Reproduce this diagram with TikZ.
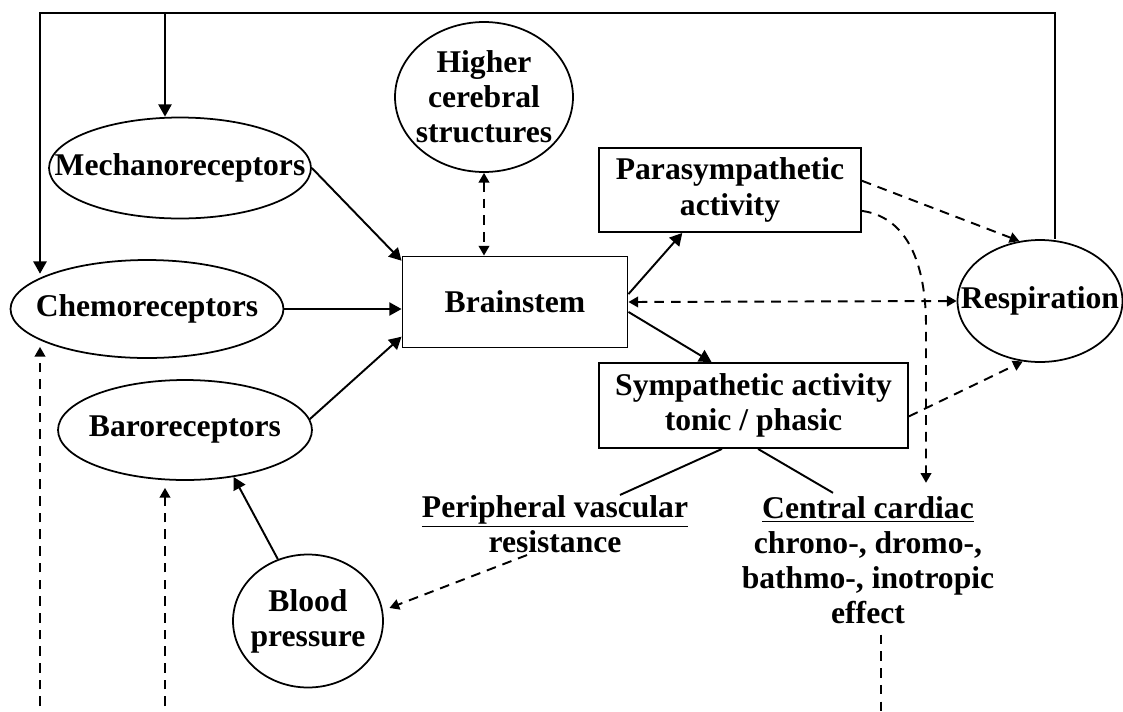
\documentclass[tikz,border=0pt]{standalone}
\usepackage{fontspec}
\setmainfont{Liberation Serif}
\usetikzlibrary{shapes.geometric,arrows.meta,calc}

\begin{document}
\begin{tikzpicture}[x=0.02cm,y=-0.02cm,
  font=\fontsize{18}{20}\selectfont\bfseries,
  oval/.style={draw,ellipse,line width=1pt,inner sep=-3cm,align=center},
  box/.style={draw,rectangle,line width=1.1pt,inner sep=2pt,align=center},
  txt/.style={inner sep=0pt,align=center},
  plainline/.style={line width=1.1pt},
  dline/.style={line width=1.1pt,dash pattern=on 5.5pt off 4pt},
  link/.style={plainline,-{Triangle[length=7pt,width=7.5pt]}},
  dlink/.style={dline,-{Triangle[length=5.5pt,width=6pt]}},
  ddual/.style={dline,{Triangle[length=5.5pt,width=6pt]}-{Triangle[length=5.5pt,width=6pt]}}]
\useasboundingbox (0,0) rectangle (1123,711);

\node[oval,minimum width=5.24cm,minimum height=2.02cm] (mech) at (180,168) {Mechanoreceptors};
\node[oval,minimum width=5.46cm,minimum height=1.96cm] (chemo) at (147,309) {Chemoreceptors};
\node[oval,minimum width=5.08cm,minimum height=2cm] (baro) at (185,430) {Baroreceptors};
\node[oval,minimum width=3cm,minimum height=2.66cm] (blood) at (308,621) {Blood\\pressure};
\node[oval,minimum width=3.56cm,minimum height=3cm] (higher) at (484,97) {Higher\\cerebral\\structures};
\node[box,minimum width=4.5cm,minimum height=1.82cm] (brain) at (515,302) {Brainstem};
\node[box,minimum width=5.24cm,minimum height=1.68cm] (para) at (730,190) {Parasympathetic\\activity};
\node[box,minimum width=6.18cm,minimum height=1.7cm] (symp) at (753.5,405.5) {Sympathetic activity\\tonic / phasic};
\node[oval,minimum width=3.3cm,minimum height=2.44cm] (resp) at (1040,301) {Respiration};
\node[txt] (periph) at (555,524) {\underline{Peripheral vascular}\\resistance};
\node[txt] (central) at (868,560) {\underline{Central cardiac}\\chrono-, dromo-,\\bathmo-, inotropic\\effect};

\coordinate (fbL) at (40,13);
\coordinate (fbM) at (165,13);
\coordinate (fbR) at (1055,13);
\coordinate (chemoSrc) at (40,706);
\coordinate (baroSrc) at (165,706);
\coordinate (cardOut) at (881,711);

\draw[link] (resp.north -| fbR) -- (fbR) -- (fbL) -- (fbL |- chemo.north west);
\draw[link] (fbM) -- (fbM |- mech.north);
\draw[link] (mech.east) -- (brain.160);
\draw[link] (chemo.east) -- (chemo.east -| brain.west);
\draw[link] (baro.5) -- (brain.197);
\draw[ddual] (higher.south) -- (higher.south |- brain.north);
\draw[link] (brain.4) -- (para.222);
\draw[link] (brain.355) -- (symp.134);
\draw[ddual] (brain.east) -- (resp.west);
\draw[dlink] (para.4) -- (resp.109);
\draw[dlink] (para.351) to[out=-8,in=90] ($(central.north)+(58,-170)$) -- ($(central.north)+(58,-13)$);
\draw[dlink] (symp.356) -- (resp.254);
\draw[plainline] (symp.234) -- ($(periph.north)+(65,0)$);
\draw[plainline] (symp.276) -- ($(central.north)+(-35,-3)$);
\draw[dlink,shorten >=4pt] ($(periph.south)+(-28,2)$) -- (blood.8);
\draw[link] (blood.116) -- (baro.316);
\draw[dlink,shorten >=1.5pt] (chemoSrc) -- (chemoSrc |- chemo.south west);
\draw[dlink,shorten >=4pt] (baroSrc) -- (baroSrc |- baro.south);
\draw[dline,shorten <=6pt] (central.south -| cardOut) -- (cardOut);
\end{tikzpicture}
\end{document}
